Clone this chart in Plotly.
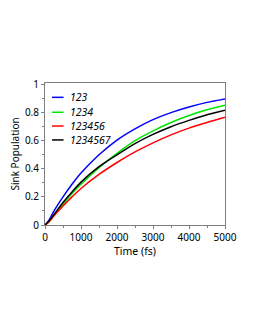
import plotly.graph_objects as go

time_fs = [0, 100, 250, 500, 750, 1000, 1500, 2000, 2500, 3000, 3500, 4000, 4500, 5000]
pop_123 = [0, 0.03, 0.10, 0.20, 0.29, 0.37, 0.50, 0.605, 0.685, 0.75, 0.80, 0.84, 0.873, 0.898]
pop_1234 = [0, 0.02, 0.07, 0.15, 0.225, 0.29, 0.408, 0.51, 0.60, 0.67, 0.73, 0.78, 0.82, 0.852]
pop_123456 = [0, 0.02, 0.065, 0.135, 0.20, 0.26, 0.36, 0.445, 0.52, 0.585, 0.642, 0.69, 0.73, 0.767]
pop_1234567 = [0, 0.025, 0.075, 0.16, 0.235, 0.305, 0.415, 0.50, 0.58, 0.645, 0.70, 0.745, 0.785, 0.818]

series_names = ["123", "1234", "123456", "1234567"]
series_values = [pop_123, pop_1234, pop_123456, pop_1234567]
series_colors = ["#0000ff", "#00e600", "#ff0000", "#000000"]

x_ticks = [0, 1000, 2000, 3000, 4000, 5000]
y_ticks = [0, 0.2, 0.4, 0.6, 0.8, 1]

FONT = "Noto Sans"

fig = go.Figure()
for name, vals, col in zip(series_names, series_values, series_colors):
    fig.add_trace(go.Scatter(x=time_fs, y=vals, mode="lines", name=name,
                             line=dict(color=col, width=1.5, shape="spline", smoothing=0.8),
                             showlegend=False))

# legend drawn as annotations + short sample lines (paper coords)
leg_y = [0.899, 0.794, 0.697, 0.599]
for name, col, ly in zip(series_names, series_colors, leg_y):
    fig.add_shape(type="line", xref="paper", yref="paper", x0=0.039, x1=0.103, y0=ly, y1=ly,
                  line=dict(color=col, width=1.5))
    fig.add_annotation(xref="paper", yref="paper", x=0.128, y=ly, text="<i>" + name + "</i>",
                       showarrow=False, xanchor="left", yanchor="middle",
                       font=dict(family=FONT, size=10.5, color="#000"))

# x axis title
fig.add_annotation(xref="paper", yref="paper", x=0.5, y=-0.18, text="Time (fs)",
                   showarrow=False, xanchor="center", yanchor="middle", borderpad=0,
                   font=dict(family=FONT, size=10.5, color="#000"))

axis_common = dict(showline=True, mirror=True, linecolor="#808080", linewidth=1,
                   ticks="outside", ticklen=3, tickcolor="#808080", showgrid=False,
                   zeroline=False, automargin=False,
                   tickfont=dict(family=FONT, size=10, color="#000"))

fig.update_xaxes(range=[0, 5000], tickvals=x_ticks, ticktext=[str(v) for v in x_ticks],
                 minor=dict(dtick=500, ticklen=2, tickcolor="#808080", ticks="outside"),
                 **axis_common)
fig.update_yaxes(range=[0, 1.011], tickvals=y_ticks, ticktext=["0", "0.2", "0.4", "0.6", "0.8", "1"],
                 minor=dict(dtick=0.1, ticklen=2, tickcolor="#808080", ticks="outside"),
                 title=dict(text="Sink Population", font=dict(family=FONT, size=10, color="#000"), standoff=4),
                 **axis_common)

fig.update_layout(width=255, height=330, margin=dict(l=37, r=38, t=75, b=113),
                  paper_bgcolor="white", plot_bgcolor="white", showlegend=False)

fig.write_html("out.html")
